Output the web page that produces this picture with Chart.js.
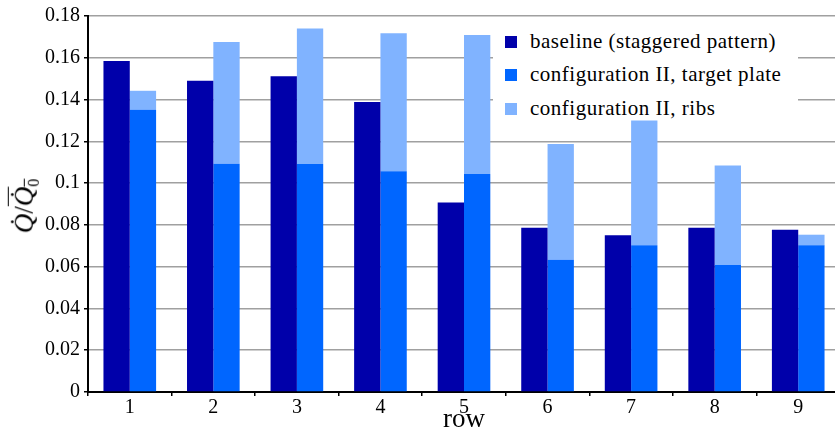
<!DOCTYPE html>
<html>
<head>
<meta charset="utf-8">
<script src="https://cdn.jsdelivr.net/npm/chart.js@4.4.1/dist/chart.umd.min.js"></script>
<style>
  body { margin: 0; overflow: hidden; background: #fff; }
  #wrap { position: relative; width: 840px; height: 433px; }
  #legend {
    position: absolute; left: 493px; top: 20px; width: 305px; height: 100px;
    background: #fff; font-family: "Liberation Serif", serif; font-size: 21px; letter-spacing: 0.5px; color: #000;
  }
  #legend .item { position: absolute; left: 12px; height: 22px; line-height: 22px; white-space: nowrap; }
  #legend .box { display: inline-block; width: 12px; height: 12px; vertical-align: 0px; margin-right: 13px; }
  #ytitle {
    position: absolute; left: 26px; top: 206px; transform: translate(-50%, -50%) rotate(-90deg);
    font-family: "Liberation Serif", serif; font-size: 27px; white-space: nowrap;
  }
  #ytitle i { font-style: italic; }
  #ytitle .bar { text-decoration: overline; text-decoration-thickness: 1px; }
  #ytitle sub { font-size: 16px; font-style: normal; }
</style>
</head>
<body>
<div id="wrap">
  <canvas id="chart" width="840" height="433"></canvas>
  <div id="ytitle"><i>Q&#775;</i>/<span class="bar"><i>Q&#775;</i><sub>0</sub></span></div>
  <div id="legend"></div>
</div>
<script>
var rows = ['1', '2', '3', '4', '5', '6', '7', '8', '9'];
var baseline = [0.1585, 0.149, 0.1512, 0.1388, 0.0907, 0.0786, 0.0750, 0.0786, 0.0777];
var targetPlate = [0.1351, 0.1093, 0.1092, 0.1057, 0.1044, 0.0633, 0.0702, 0.0608, 0.0702];
var ribs = [0.0091, 0.0583, 0.0648, 0.0660, 0.0665, 0.0554, 0.0598, 0.0476, 0.0051];
var yTicks = [0, 0.02, 0.04, 0.06, 0.08, 0.1, 0.12, 0.14, 0.16, 0.18];

var tickFont = { family: "'Liberation Serif', serif", size: 20 };

var data = {
  labels: rows,
  datasets: [
    { label: 'baseline (staggered pattern)', data: baseline, backgroundColor: '#0000aa', stack: 'base' },
    { label: 'configuration II, target plate', data: targetPlate, backgroundColor: '#0066ff', stack: 'conf' },
    { label: 'configuration II, ribs', data: ribs, backgroundColor: '#80b3ff', stack: 'conf' }
  ]
};

var chart = new Chart(document.getElementById('chart').getContext('2d'), {
  type: 'bar',
  data: data,
  options: {
    responsive: false,
    animation: false,
    devicePixelRatio: 1,
    categoryPercentage: 0.63,
    barPercentage: 1,
    layout: { padding: { top: 15, left: 0, right: 0, bottom: 0 } },
    plugins: { legend: { display: false }, tooltip: { enabled: false } },
    scales: {
      x: {
        stacked: true,
        z: 1,
        grid: { offset: true, drawOnChartArea: false, tickLength: 4, color: '#000', lineWidth: 1.5 },
        border: { color: '#000', width: 2 },
        ticks: { color: '#000', font: tickFont, padding: 0 },
        title: { display: true, text: 'row', color: '#000', font: { family: "'Liberation Serif', serif", size: 27, lineHeight: 1 }, padding: { top: 0, bottom: 0 } },
        afterFit: function(scale) { scale.height = 41; }
      },
      y: {
        stacked: true,
        min: 0,
        max: 0.18,
        afterBuildTicks: function(scale) {
          scale.ticks = yTicks.map(function(v) { return { value: v }; });
        },
        grid: { color: '#a0a0a0', lineWidth: 1.5, tickColor: '#000', tickLength: 4 },
        border: { color: '#000', width: 2 },
        ticks: {
          color: '#000', font: tickFont, padding: 4,
          callback: function(value) { return String(value); }
        },
        afterFit: function(scale) { scale.width = 88; }
      }
    }
  }
});

// legend box drawn over the plot, like the original
var legend = document.getElementById('legend');
var rowTops = [10, 43, 77];
chart.data.datasets.forEach(function(ds, i) {
  var item = document.createElement('div');
  item.className = 'item';
  item.style.top = rowTops[i] + 'px';
  item.innerHTML = '<span class="box" style="background:' + ds.backgroundColor + '"></span>' + ds.label;
  legend.appendChild(item);
});
</script>
</body>
</html>
